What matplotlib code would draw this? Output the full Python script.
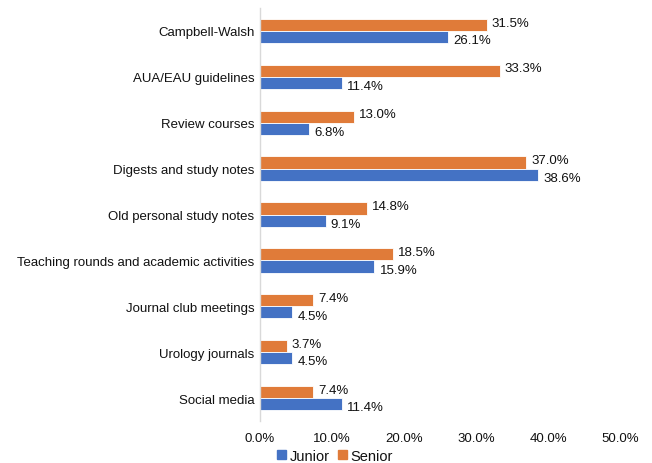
import matplotlib
matplotlib.use("Agg")
import matplotlib.pyplot as plt
from matplotlib.patches import Patch
import numpy as np

plt.rcParams['font.family'] = ['Liberation Sans', 'DejaVu Sans']

categories = ["Campbell-Walsh", "AUA/EAU guidelines", "Review courses",
              "Digests and study notes", "Old personal study notes",
              "Teaching rounds and academic activities", "Journal club meetings",
              "Urology journals", "Social media"]
junior = [26.1, 11.4, 6.8, 38.6, 9.1, 15.9, 4.5, 4.5, 11.4]
senior = [31.5, 33.3, 13.0, 37.0, 14.8, 18.5, 7.4, 3.7, 7.4]
xticks = [0, 10, 20, 30, 40, 50]

c_jun = "#4472C4"
c_sen = "#E07B39"
tc = "#111111"

fig = plt.figure(figsize=(6.52, 4.64), dpi=100)
ax = fig.add_axes([260/652, 1-422/464, (620-260)/652, (422-9)/464])

n = len(categories)
y = np.arange(n)
h = 0.265
ax.barh(y - h/2, senior, height=h, color=c_sen, edgecolor="white", linewidth=0.6)
ax.barh(y + h/2, junior, height=h, color=c_jun, edgecolor="white", linewidth=0.6)

fs = 9.5
for i in range(n):
    ax.text(senior[i] + 0.7, y[i] - h/2 - 0.05, f"{senior[i]:.1f}%", va="center", ha="left", fontsize=fs, color=tc)
    ax.text(junior[i] + 0.7, y[i] + h/2 + 0.07, f"{junior[i]:.1f}%", va="center", ha="left", fontsize=fs, color=tc)

ax.set_ylim(n - 0.5, -0.5)
ax.set_xlim(0, 50)
ax.set_yticks(y)
ax.set_yticklabels(categories, fontsize=fs, color=tc)
ax.set_xticks(xticks)
ax.set_xticklabels([f"{t:.1f}%" for t in xticks], fontsize=fs, color=tc)
ax.tick_params(axis="both", length=0)
ax.tick_params(axis="y", pad=4)
ax.tick_params(axis="x", pad=8)
for s in ["top", "right", "bottom"]:
    ax.spines[s].set_visible(False)
ax.spines["left"].set_color("#D9D9D9")
ax.spines["left"].set_linewidth(1)

handles = [Patch(color=c_jun, label="Junior"), Patch(color=c_sen, label="Senior")]
fig.legend(handles=handles, loc="center", bbox_to_anchor=(335/652, 1-457/464), ncol=2,
           frameon=False, fontsize=10.5, handlelength=0.6, handleheight=0.6,
           handletextpad=0.25, columnspacing=0.6, borderpad=0, labelcolor=tc)

fig.savefig("out.png", dpi=100)
